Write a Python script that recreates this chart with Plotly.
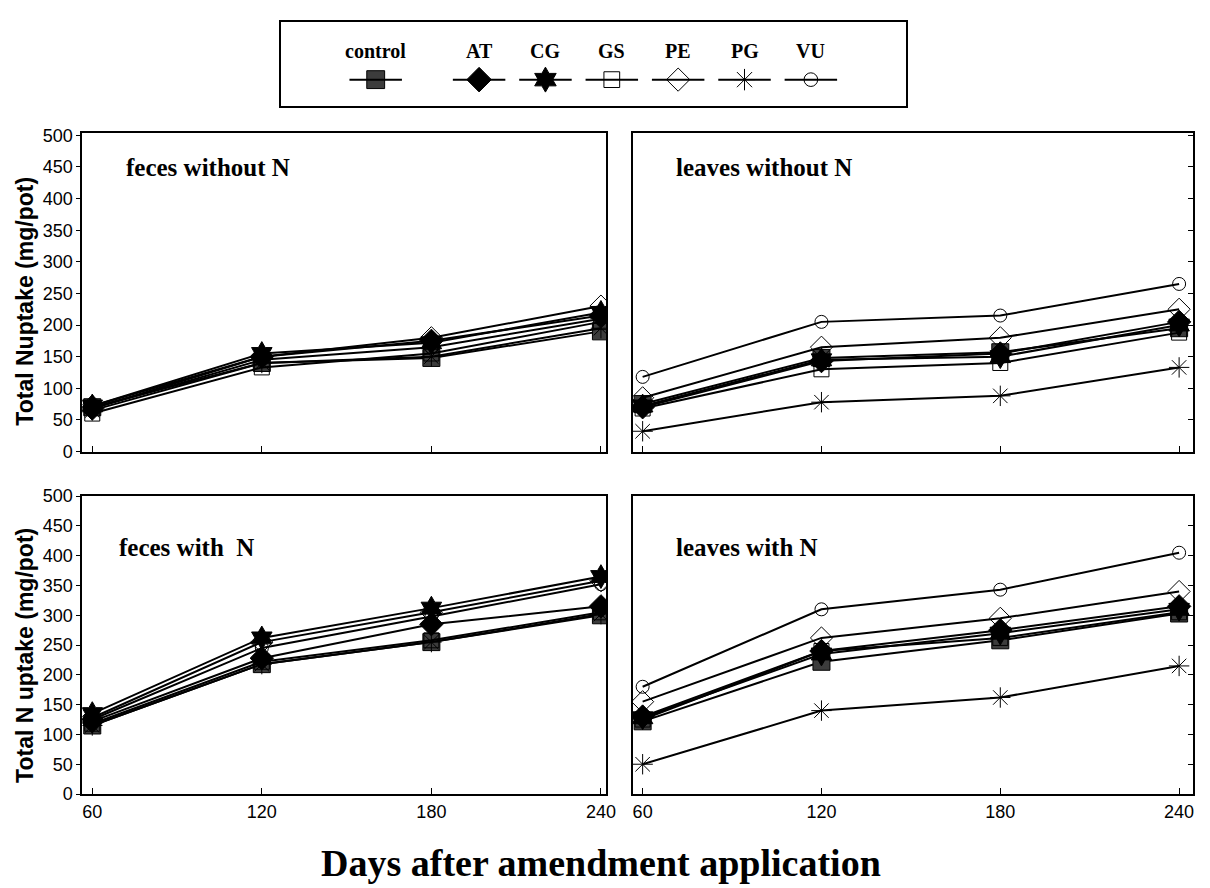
import plotly.graph_objects as go

DAYS = [60, 120, 180, 240]
SERIES = ["control", "AT", "CG", "GS", "PE", "PG", "VU"]

# feces without N
fwo_control = [70, 140, 148, 190]
fwo_AT = [68, 150, 175, 215]
fwo_CG = [72, 155, 172, 220]
fwo_GS = [60, 133, 155, 205]
fwo_PE = [72, 150, 180, 230]
fwo_PG = [65, 140, 150, 195]
fwo_VU = [68, 145, 165, 210]

# leaves without N
lwo_control = [75, 148, 157, 195]
lwo_AT = [70, 143, 155, 205]
lwo_CG = [72, 145, 150, 200]
lwo_GS = [68, 130, 140, 188]
lwo_PE = [85, 165, 180, 225]
lwo_PG = [32, 78, 88, 133]
lwo_VU = [118, 205, 215, 265]

# feces with N
fw_control = [115, 218, 255, 300]
fw_AT = [122, 228, 285, 315]
fw_CG = [135, 262, 312, 365]
fw_GS = [118, 222, 258, 305]
fw_PE = [128, 255, 305, 358]
fw_PG = [115, 218, 255, 302]
fw_VU = [125, 245, 298, 352]

# leaves with N
lw_control = [122, 222, 258, 303]
lw_AT = [130, 240, 275, 315]
lw_CG = [128, 235, 270, 310]
lw_GS = [125, 240, 262, 305]
lw_PE = [155, 262, 295, 340]
lw_PG = [50, 140, 162, 215]
lw_VU = [180, 310, 343, 405]

PANELS = [
    ("feces without N", [fwo_control, fwo_AT, fwo_CG, fwo_GS, fwo_PE, fwo_PG, fwo_VU]),
    ("leaves without N", [lwo_control, lwo_AT, lwo_CG, lwo_GS, lwo_PE, lwo_PG, lwo_VU]),
    ("feces with  N", [fw_control, fw_AT, fw_CG, fw_GS, fw_PE, fw_PG, fw_VU]),
    ("leaves with N", [lw_control, lw_AT, lw_CG, lw_GS, lw_PE, lw_PG, lw_VU]),
]


def marker(name, scale=1.0):
    base = {
        "control": dict(symbol="square", color="#3c3c3c", size=17),
        "AT": dict(symbol="diamond", color="black", size=18),
        "CG": dict(symbol="hexagram", color="black", size=18),
        "GS": dict(symbol="square-open", color="black", size=15),
        "PE": dict(symbol="diamond-open", color="black", size=17),
        "PG": dict(symbol="asterisk-open", color="black", size=17),
        "VU": dict(symbol="circle-open", color="black", size=13),
    }[name]
    base = dict(base)
    base["size"] = base["size"] * scale
    base["line"] = dict(color="black", width=1)
    return base


SERIF = "Liberation Serif, Times New Roman, serif"
SANS = "Liberation Sans, Arial, sans-serif"

W, H, OFF = 1210, 888, 8  # page body margin offset


def fx(px):
    return (px - OFF) / W


def fy(py):
    return 1 - (py - OFF) / H


fig = go.Figure()

axis_ids = [("x", "y"), ("x2", "y2"), ("x3", "y3"), ("x4", "y4")]
for (title, data), (xa, ya) in zip(PANELS, axis_ids):
    for name, vals in zip(SERIES, data):
        fig.add_trace(go.Scatter(
            x=DAYS, y=vals, mode="lines+markers", name=name, showlegend=False,
            line=dict(color="black", width=2), marker=marker(name),
            xaxis=xa, yaxis=ya,
        ))

# custom legend (label above symbol)
LEG_X = [0.152] + [0.3175 + 0.1062 * k for k in range(len(SERIES) - 1)]
LEG_TEXT_Y = (99 - 43) / (99 - 13)
LEG_SYM_Y = (99 - 72) / (99 - 13)
for name, px in zip(SERIES, LEG_X):
    fig.add_shape(type="line", xref="x5", yref="y5", x0=px - 0.042, x1=px + 0.042,
                  y0=LEG_SYM_Y, y1=LEG_SYM_Y, line=dict(color="black", width=2))
    fig.add_trace(go.Scatter(x=[px], y=[LEG_SYM_Y], mode="markers", marker=marker(name, 1.05),
                             showlegend=False, xaxis="x5", yaxis="y5"))
    fig.add_annotation(x=px, y=LEG_TEXT_Y, xref="x5", yref="y5", text="<b>%s</b>" % name,
                       showarrow=False, xanchor="center", yanchor="middle",
                       font=dict(family=SERIF, size=20, color="black"))

common_x = dict(tickvals=DAYS, ticks="inside", ticklen=6, tickcolor="black",
                showline=True, mirror=True, linecolor="black", linewidth=2,
                showgrid=False, zeroline=False,
                tickfont=dict(family=SANS, size=18, color="black"))
common_y = dict(dtick=50, tick0=0, showline=True, mirror=True, linecolor="black",
                linewidth=2, showgrid=False, zeroline=False, tickcolor="black",
                tickfont=dict(family=SANS, size=18, color="black"))

XL = [fx(83), fx(611)]
XR = [fx(638), fx(1203)]
YT = [fy(452), fy(127)]
YB = [fy(802), fy(497)]

fig.update_layout(
    width=W, height=H, margin=dict(l=0, r=0, t=0, b=0),
    paper_bgcolor="white", plot_bgcolor="white", showlegend=False,
    xaxis=dict(domain=XL, anchor="y", range=[56.5, 241.8], showticklabels=False, **common_x),
    yaxis=dict(domain=YT, anchor="x", range=[0, 503], ticks="outside", ticklen=4, **common_y),
    xaxis2=dict(domain=XR, anchor="y2", range=[56.7, 244.7], showticklabels=False, **common_x),
    yaxis2=dict(domain=YT, anchor="x2", range=[0, 503], side="right", ticks="inside", ticklen=5,
                showticklabels=False, **common_y),
    xaxis3=dict(domain=XL, anchor="y3", range=[56.5, 241.8], showticklabels=True, **common_x),
    yaxis3=dict(domain=YB, anchor="x3", range=[0, 501], ticks="outside", ticklen=4, **common_y),
    xaxis4=dict(domain=XR, anchor="y4", range=[56.7, 244.7], showticklabels=True, **common_x),
    yaxis4=dict(domain=YB, anchor="x4", range=[0, 501], side="right", ticks="inside", ticklen=5,
                showticklabels=False, **common_y),
    xaxis5=dict(domain=[fx(283), fx(913)], anchor="y5", range=[0, 1], showticklabels=False,
                ticks="", showgrid=False, zeroline=False, showline=True, mirror=True,
                linecolor="black", linewidth=1.5, fixedrange=True),
    yaxis5=dict(domain=[fy(99), fy(13)], anchor="x5", range=[0, 1], showticklabels=False,
                ticks="", showgrid=False, zeroline=False, showline=True, mirror=True,
                linecolor="black", linewidth=1.5, fixedrange=True),
)

# panel labels
LABEL_POS = [(125, 162), (680, 162), (118, 550), (680, 550)]
for (title, _), (px, py) in zip(PANELS, LABEL_POS):
    fig.add_annotation(x=fx(px), y=fy(py), xref="paper", yref="paper",
                       xanchor="left", yanchor="middle", showarrow=False,
                       text="<b>%s</b>" % title.replace("  ", "&nbsp; "),
                       font=dict(family=SERIF, size=25, color="black"))

# y-axis titles
fig.add_annotation(x=fx(25), y=fy(298), xref="paper", yref="paper", textangle=-90,
                   xanchor="center", yanchor="middle",
                   showarrow=False, text="<b>Total Nuptake (mg/pot)</b>",
                   font=dict(family=SANS, size=23, color="black"))
fig.add_annotation(x=fx(25), y=fy(660), xref="paper", yref="paper", textangle=-90,
                   xanchor="center", yanchor="middle",
                   showarrow=False, text="<b>Total N uptake (mg/pot)</b>",
                   font=dict(family=SANS, size=23, color="black"))

# x-axis title
fig.add_annotation(x=fx(606), y=fy(872), xref="paper", yref="paper",
                   xanchor="center", yanchor="middle",
                   showarrow=False, text="<b>Days after amendment application</b>",
                   font=dict(family=SERIF, size=38, color="black"))

fig.write_html("out.html")
